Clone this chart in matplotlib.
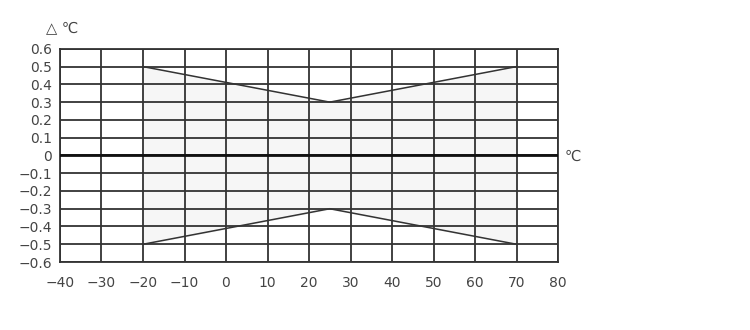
import numpy as np
import matplotlib.pyplot as plt

temp = [-20, 25, 70]
upper = [0.5, 0.3, 0.5]
lower = [-0.5, -0.3, -0.5]
xticks = np.arange(-40, 81, 10)
yticks = np.round(np.arange(-0.6, 0.61, 0.1), 1)

fig = plt.figure(figsize=(7.5, 3.3), dpi=100)
ax = fig.add_axes([0.08, 0.206, 0.664, 0.646])

ax.fill_between(temp, lower, upper, color='#f6f6f6', zorder=0)
ax.plot(temp, upper, color='#333333', lw=1.1, zorder=3)
ax.plot(temp, lower, color='#333333', lw=1.1, zorder=3)
ax.axhline(0, color='#111111', lw=2, zorder=4)

ax.set_xlim(-40, 80)
ax.set_ylim(-0.6, 0.6)
ax.set_xticks(xticks)
ax.set_yticks(yticks)
ax.set_xticklabels([str(v).replace('-', '\u2212') for v in xticks])
ax.set_yticklabels(['0' if v == 0 else ('%.1f' % v).replace('-', '\u2212') for v in yticks])
ax.grid(True, color='#333333', lw=1.3, zorder=1)
ax.set_axisbelow(False)
ax.tick_params(length=0, labelsize=10, labelcolor='#444444')
ax.tick_params(axis='x', pad=10)
ax.tick_params(axis='y', pad=6)
for s in ax.spines.values():
    s.set_color('#333333')
    s.set_linewidth(1.3)

fig.text(0.062, 0.915, '\u25b3 \u2103', fontsize=10.5, color='#444444', ha='left', va='center')
fig.text(0.753, 0.527, '\u2103', fontsize=10.5, color='#444444', ha='left', va='center')

fig.savefig('out.png', dpi=100)
